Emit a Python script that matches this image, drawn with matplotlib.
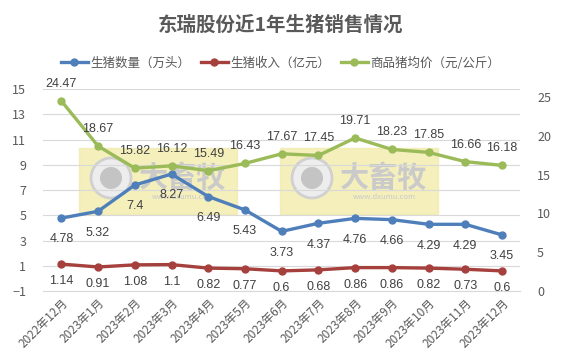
import numpy as np
import matplotlib.pyplot as plt
from matplotlib.patches import Rectangle, Ellipse

plt.rcParams['font.family'] = ['Noto Sans CJK SC', 'DejaVu Sans']

months = ['2022年12月', '2023年1月', '2023年2月', '2023年3月', '2023年4月', '2023年5月', '2023年6月',
          '2023年7月', '2023年8月', '2023年9月', '2023年10月', '2023年11月', '2023年12月']
pig_count = [4.78, 5.32, 7.4, 8.27, 6.49, 5.43, 3.73, 4.37, 4.76, 4.66, 4.29, 4.29, 3.45]
pig_income = [1.14, 0.91, 1.08, 1.1, 0.82, 0.77, 0.6, 0.68, 0.86, 0.86, 0.82, 0.73, 0.6]
pig_price = [24.47, 18.67, 15.82, 16.12, 15.49, 16.43, 17.67, 17.45, 19.71, 18.23, 17.85, 16.66, 16.18]
series_names = ['生猪数量（万头）', '生猪收入（亿元）', '商品猪均价（元/公斤）']

colors = ['#4F7FBA', '#A5403D', '#9BBB59']
text_c = '#404040'
W, H = 561, 352

fig = plt.figure(figsize=(5.61, 3.52), dpi=100)
ax = fig.add_axes([0.0766, 0.173, 0.851, 0.574])
ax2 = ax.twinx()
x = np.arange(len(months))

# watermark boxes
for x0, x1 in [(79, 237), (280, 438)]:
    fig.patches.append(Rectangle((x0 / W, 1 - 214 / H), (x1 - x0) / W, 66 / H,
                                 transform=fig.transFigure, color='#F3EDB0', alpha=0.85, zorder=0))
    cx, cy = x0 + 32, 178
    fig.patches.append(Ellipse((cx / W, 1 - cy / H), 40 / W, 40 / H, transform=fig.transFigure,
                               facecolor='#EDEDED', edgecolor='#D0D0D0', lw=2, zorder=0))
    fig.patches.append(Ellipse((cx / W, 1 - cy / H), 22 / W, 22 / H, transform=fig.transFigure,
                               facecolor='#C4C4C4', edgecolor='none', zorder=0))
    fig.text((x0 + 104) / W, 1 - 178 / H, '大畜牧', fontsize=21, fontweight='bold', color='#CACACA',
             ha='center', va='center', zorder=0)
    fig.text((x0 + 104) / W, 1 - 197 / H, 'www.dxumu.com', fontsize=5.5, color='#CACACA',
             ha='center', va='center', zorder=0)

ax.set_zorder(2)
ax2.set_zorder(3)
ax.patch.set_visible(False)
ax2.patch.set_visible(False)

ax.plot(x, pig_count, color=colors[0], lw=2.4, marker='o', ms=5, label=series_names[0])
ax.plot(x, pig_income, color=colors[1], lw=2.4, marker='o', ms=5, label=series_names[1])
ax2.plot(x, pig_price, color=colors[2], lw=2.4, marker='o', ms=5, label=series_names[2])

lbl_font = ['Liberation Sans', 'DejaVu Sans']
for i in range(len(x)):
    ax.annotate(f'{pig_count[i]:g}', (x[i], pig_count[i]), xytext=(0, -11), textcoords='offset points',
                ha='center', va='top', fontsize=9, color=text_c, family=lbl_font)
    ax.annotate(f'{pig_income[i]:g}', (x[i], pig_income[i]), xytext=(0, -8), textcoords='offset points',
                ha='center', va='top', fontsize=9, color=text_c, family=lbl_font)
    ax2.annotate(f'{pig_price[i]:g}', (x[i], pig_price[i]), xytext=(0, 8), textcoords='offset points',
                 ha='center', va='bottom', fontsize=9, color=text_c, family=lbl_font)

ax.set_xlim(-0.5, len(x) - 0.5)
ax.set_ylim(-1, 15)
ax.set_yticks(np.arange(-1, 16, 2))
ax2.set_ylim(0, 26)
ax2.set_yticks(np.arange(0, 26, 5))
ax.grid(axis='y', color='#D9D9D9', lw=0.8)
ax.set_axisbelow(True)
for a in (ax, ax2):
    for s in a.spines.values():
        s.set_visible(False)
    a.tick_params(length=0, labelsize=9, labelcolor='#595959')
ax.spines['bottom'].set_visible(True)
ax.spines['bottom'].set_color('#D9D9D9')
ax.set_xticks(x)
ax.set_xticklabels(months, rotation=45, ha='right', rotation_mode='anchor', fontsize=8.5)
ax.tick_params(axis='x', pad=4)
ax.tick_params(axis='y', pad=12)
ax2.tick_params(axis='y', pad=12)

fig.text(0.5, 1 - 25 / H, '东瑞股份近1年生猪销售情况', ha='center', va='center', fontsize=14,
         fontweight='bold', color='#595959')
h1, l1 = ax.get_legend_handles_labels()
h2, l2 = ax2.get_legend_handles_labels()
fig.legend(h1 + h2, l1 + l2, loc='center', bbox_to_anchor=(0.5, 1 - 63 / H), ncol=3, frameon=False,
           fontsize=9, handlelength=2.2, handletextpad=0.2, columnspacing=0.8, labelcolor='#595959')

plt.savefig('out.png', dpi=100)
